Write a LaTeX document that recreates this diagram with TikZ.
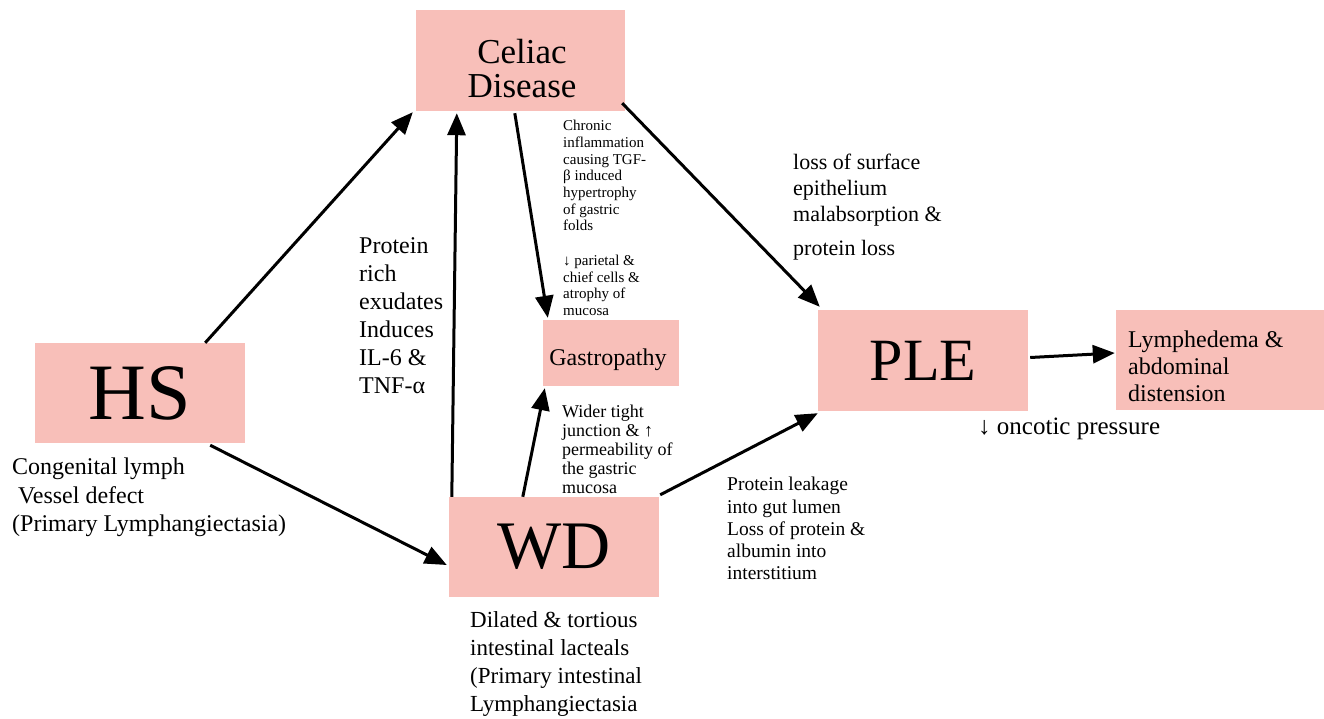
\documentclass[tikz,border=0pt]{standalone}
\usepackage{fontspec}
\setmainfont{Liberation Serif}
\usetikzlibrary{arrows.meta,calc}

\definecolor{boxpink}{RGB}{248,191,185}
\newcommand{\fsz}[2]{\fontsize{#1}{#2}\selectfont}
\tikzset{
  pinkbox/.style={fill=boxpink,inner sep=0pt,align=center},
  arr/.style={line width=3pt,-{Triangle[length=22pt,width=18pt]}},
  note/.style={anchor=north west,inner sep=0pt,align=left},
}

\begin{document}
\begin{tikzpicture}[x=1pt,y=-1pt]
\useasboundingbox (0,0) rectangle (1324,718);

\node[pinkbox,minimum width=209pt,minimum height=101pt] (celiac) at (520.5,60.5) {};
\node[anchor=north,inner sep=0pt,align=center,font=\fsz{35}{34}] (celiactxt) at (522,39) {Celiac\\Disease};
\node[pinkbox,minimum width=210pt,minimum height=100pt,font=\fsz{80}{80}] (hs) at (140,393) {HS};
\node[pinkbox,minimum width=210pt,minimum height=100pt,font=\fsz{68}{68}] (wd) at (554,547) {WD};
\node[pinkbox,minimum width=136pt,minimum height=66pt] (gastro) at (611,353) {};
\node[anchor=base,inner sep=0pt,font=\fsz{24}{26}] (gastrotxt) at (608,365) {Gastropathy};
\node[pinkbox,minimum width=210pt,minimum height=101pt,font=\fsz{60}{60}] (ple) at (923,360.5) {PLE};
\node[pinkbox,minimum width=208pt,minimum height=100pt] (lymph) at (1220,360) {};
\node[note,font=\fsz{24}{27}] (lymphtxt) at (1128,331) {Lymphedema \&\\abdominal\\distension};

\draw[arr] ($(hs.north east)+(-40,0)$) -- ($(celiac.south west)+(-3,1)$);
\draw[arr] ($(hs.south east)+(-35,2)$) -- ($(wd.west)+(-2,18)$);
\draw[arr] ($(wd.north west)+(3,0)$) -- ($(celiac.south west)+(41,2)$);
\draw[arr] ($(wd.north west)+(74,0)$) -- ($(gastro.south west)+(2,2)$);
\draw[arr] ($(celiac.south west)+(99,2)$) -- ($(gastro.north west)+(5,-2)$);
\draw[arr] ($(celiac.south east)+(-3,-8)$) -- ($(ple.north west)+(2,-3)$);
\draw[arr] ($(wd.north east)+(1,-2)$) -- ($(ple.south west)+(0,2)$);
\draw[arr] ($(ple.east)+(2,-3)$) -- ($(lymph.west)+(-1,-7)$);

\node[note,font=\fsz{15}{16.7}] (chronic) at (563,120) {Chronic\\inflammation\\causing TGF-\\β induced\\hypertrophy\\of gastric\\folds\\[18pt]↓ parietal \&\\chief cells \&\\atrophy of\\mucosa};
\node[note,font=\fsz{22}{26}] (surface) at (793,154) {loss of surface\\epithelium\\malabsorption \&\\[8pt]protein loss};
\node[note,font=\fsz{24}{28}] (exudate) at (359,237) {Protein\\rich\\exudates\\Induces\\IL-6 \&\\TNF-α};
\node[note,font=\fsz{18}{19}] (tight) at (562,405) {Wider tight\\junction \& ↑\\permeability of\\the gastric\\mucosa};
\node[note,font=\fsz{19.5}{22.3}] (leak) at (727,477) {Protein leakage\\into gut lumen\\Loss of protein \&\\albumin into\\interstitium};
\node[note,font=\fsz{25}{28}] (oncotic) at (978,418) {↓ oncotic pressure};
\node[note,font=\fsz{24}{28.5}] (congen) at (12,458) {Congenital lymph\\\ Vessel defect\\(Primary Lymphangiectasia)};
\node[note,font=\fsz{23}{28}] (dilated) at (470,611) {Dilated \& tortious\\intestinal lacteals\\(Primary intestinal\\Lymphangiectasia};
\end{tikzpicture}
\end{document}
